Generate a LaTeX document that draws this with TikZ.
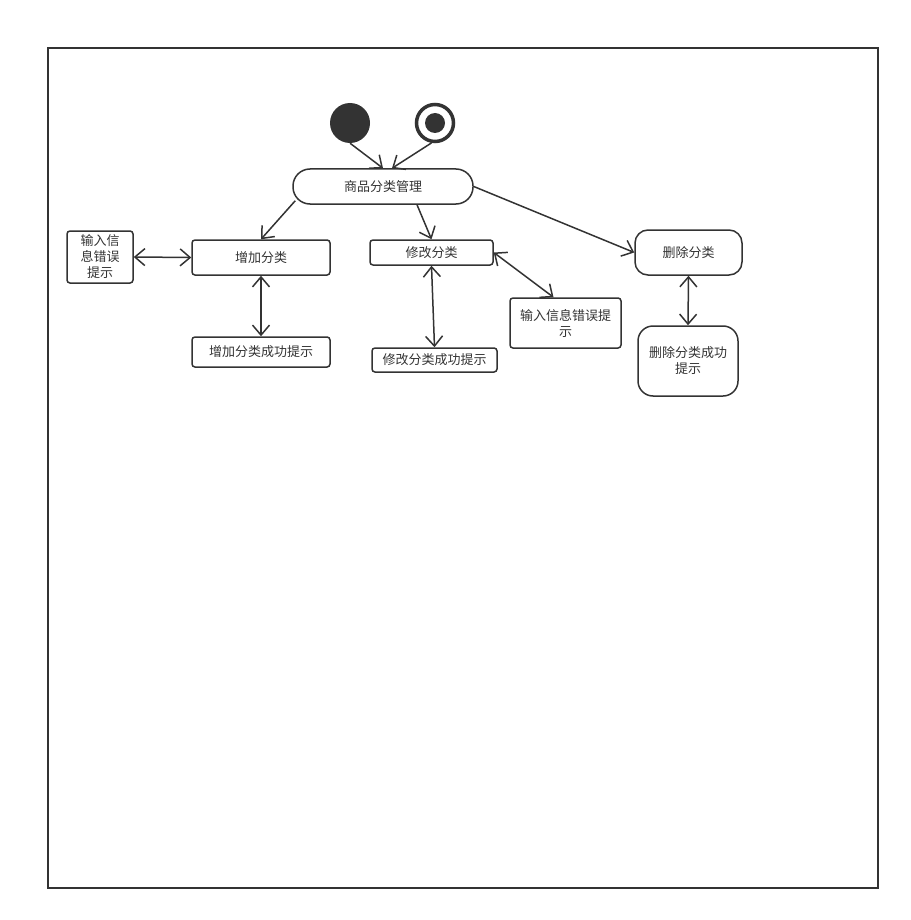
\documentclass[tikz,border=0pt]{standalone}
\usepackage{fontspec}
\setmainfont{Noto Sans CJK SC}
\usepackage{xcolor}
\usepackage{tikz}
\usetikzlibrary{arrows.meta, positioning}
\definecolor{ink}{HTML}{333333}

\begin{document}
\begin{tikzpicture}[
    x=1pt, y=-1pt,
    font=\fontsize{13}{16}\selectfont,
    box/.style={rectangle, draw=ink, text=ink, line width=1.5pt, rounded corners=3pt, align=center, inner sep=0pt},
    rbox/.style={box, rounded corners=#1},
    startdot/.style={circle, fill=ink, minimum size=40pt, inner sep=0pt},
    endring/.style={circle, draw=ink, line width=3.5pt, minimum size=37pt, inner sep=0pt},
    enddot/.style={circle, fill=ink, minimum size=20pt, inner sep=0pt},
    arrow/.style={-{Straight Barb[length=10pt, width=17pt]}, draw=ink, line width=1.5pt},
    biarrow/.style={{Straight Barb[length=10pt, width=17pt]}-{Straight Barb[length=10pt, width=17pt]}, draw=ink, line width=1.5pt}
]
\useasboundingbox (0,0) rectangle (910,920);
\draw[ink, line width=1.5pt] (48,48) rectangle (878,888);

\node[startdot] (start) at (350,123) {};
\node[endring] (stop) at (435,123) {};
\node[enddot] at (stop) {};
\node[rbox=17pt, minimum width=180pt, minimum height=35pt] (mgmt) at (383,186.5) {商品分类管理};

\node[box, minimum width=138pt, minimum height=35pt] (add) at (261,257.5) {增加分类};
\node[box, minimum width=123pt, minimum height=25pt] (mod) at (431.5,252.5) {修改分类};
\node[rbox=13pt, minimum width=107pt, minimum height=45pt] (del) at (688.5,252.5) {删除分类};

\node[box, minimum width=66pt, minimum height=52pt] (errL) at (100,257) {输入信\\息错误\\提示};
\node[box, minimum width=138pt, minimum height=30pt] (addOk) at (261,352) {增加分类成功提示};
\node[box, minimum width=125pt, minimum height=24pt] (modOk) at (434.5,360) {修改分类成功提示};
\node[box, minimum width=111pt, minimum height=50pt] (errR) at (565.5,323) {输入信息错误提\\示};
\node[rbox=15pt, minimum width=100pt, minimum height=70pt] (delOk) at (688,361) {删除分类成功\\提示};

\draw[arrow] (start.south) -- (mgmt.north);
\draw[arrow] (stop.260) -- ([xshift=9pt]mgmt.north);
\draw[arrow] ([shift={(3,-4)}]mgmt.south west) -- (add.north);
\draw[arrow] ([xshift=34pt]mgmt.south) -- (mod.north);
\draw[arrow] (mgmt.east) -- (del.west);

\draw[biarrow] (errL.east) -- (add.west);
\draw[biarrow] (add.south) -- (addOk.north);
\draw[biarrow] (mod.south) -- (modOk.north);
\draw[biarrow] (mod.east) -- ([xshift=-12pt]errR.north);
\draw[biarrow] (del.south) -- (delOk.north);

\end{tikzpicture}
\end{document}
